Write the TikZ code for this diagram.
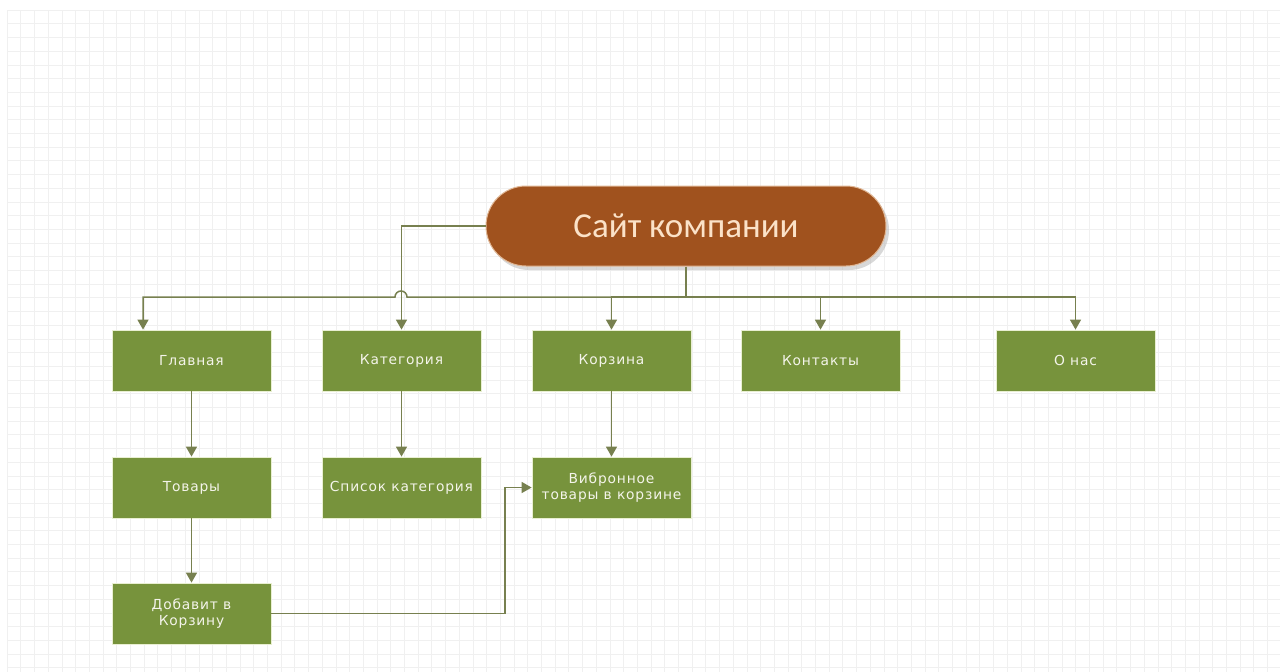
\documentclass[tikz,border=0pt]{standalone}
\usepackage{fontspec}
\setmainfont{DejaVu Sans}[LetterSpace=6]
\newfontfamily\titlefont{Carlito}
\usetikzlibrary{arrows.meta,shadows}
\definecolor{boxgreen}{HTML}{77933C}
\definecolor{boxedge}{HTML}{E9EFD2}
\definecolor{boxtext}{HTML}{F4F4EA}
\definecolor{ovalbrown}{HTML}{A0521E}
\definecolor{ovaltext}{HTML}{FBE2C8}
\definecolor{linkcol}{HTML}{77804F}
\definecolor{gridcol}{HTML}{F0F0F0}

\begin{document}
\begin{tikzpicture}[x=1pt,y=-1pt,
    page/.style={draw=boxedge, line width=0.8pt, fill=boxgreen, text=boxtext,
      minimum width=159pt, minimum height=61pt, inner sep=1pt, align=center,
      font=\fontsize{13.8}{16}\selectfont},
    site/.style={draw=ovaltext!70!ovalbrown, line width=1pt, fill=ovalbrown,
      text=ovaltext, rounded corners=40pt, minimum width=400pt, minimum height=80pt,
      font=\titlefont\fontsize{35}{40}\selectfont,
      drop shadow={shadow xshift=3pt, shadow yshift=-4pt, fill=black!30}},
    link/.style={draw=linkcol, line width=1.5pt},
    arr/.style={link, -{Triangle[width=11pt,length=10pt]}}]

    \useasboundingbox (0,0) rectangle (1280,672);
    \fill[white] (0,0) rectangle (1280,672);
    \foreach \x in {0,...,92}
      \draw[gridcol, line width=0.6pt] (7+13.7*\x,10) -- (7+13.7*\x,672);
    \foreach \y in {0,...,48}
      \draw[gridcol, line width=0.6pt] (7,10+13.7*\y) -- (1280,10+13.7*\y);

    \node[site] (site) at (686,226) {Сайт компании};

    \node[page] (main) at (191.5,360.5) {Главная};
    \node[page] (cat) at (401.5,360.5) {Категория};
    \node[page] (cart) at (611.5,360.5) {Корзина};
    \node[page] (contacts) at (820.5,360.5) {Контакты};
    \node[page] (about) at (1075.5,360.5) {О нас};

    \node[page] (goods) at (191.5,487.5) {Товары};
    \node[page] (catlist) at (401.5,487.5) {Список категория};
    \node[page] (chosen) at (611.5,487.5) {Вибронное\\товары в корзине};

    \node[page] (addcart) at (191.5,613.5) {Добавит в\\Корзину};

    \coordinate (hub) at (686,297);
    \coordinate (busl) at (143,297);
    \coordinate (hopr) at (407,297);
    \coordinate (turn) at (505,613.5);

    \draw[link] (site.south) -- (hub);
    \draw[arr] (hub) -| (cart.north);
    \draw[arr] (hub) -| (contacts.north);
    \draw[arr] (hub) -| (about.north);
    \draw[arr] (hub) -- (hopr) arc (0:-180:6) -- (busl) -- (main.north -| busl);
    \draw[arr] (site.west) -| (cat.north);

    \draw[arr] (main) -- (goods);
    \draw[arr] (goods) -- (addcart);
    \draw[arr] (cat) -- (catlist);
    \draw[arr] (cart) -- (chosen);
    \draw[arr] (addcart.east) -- (turn) |- (chosen.west);

  \end{tikzpicture}
\end{document}
